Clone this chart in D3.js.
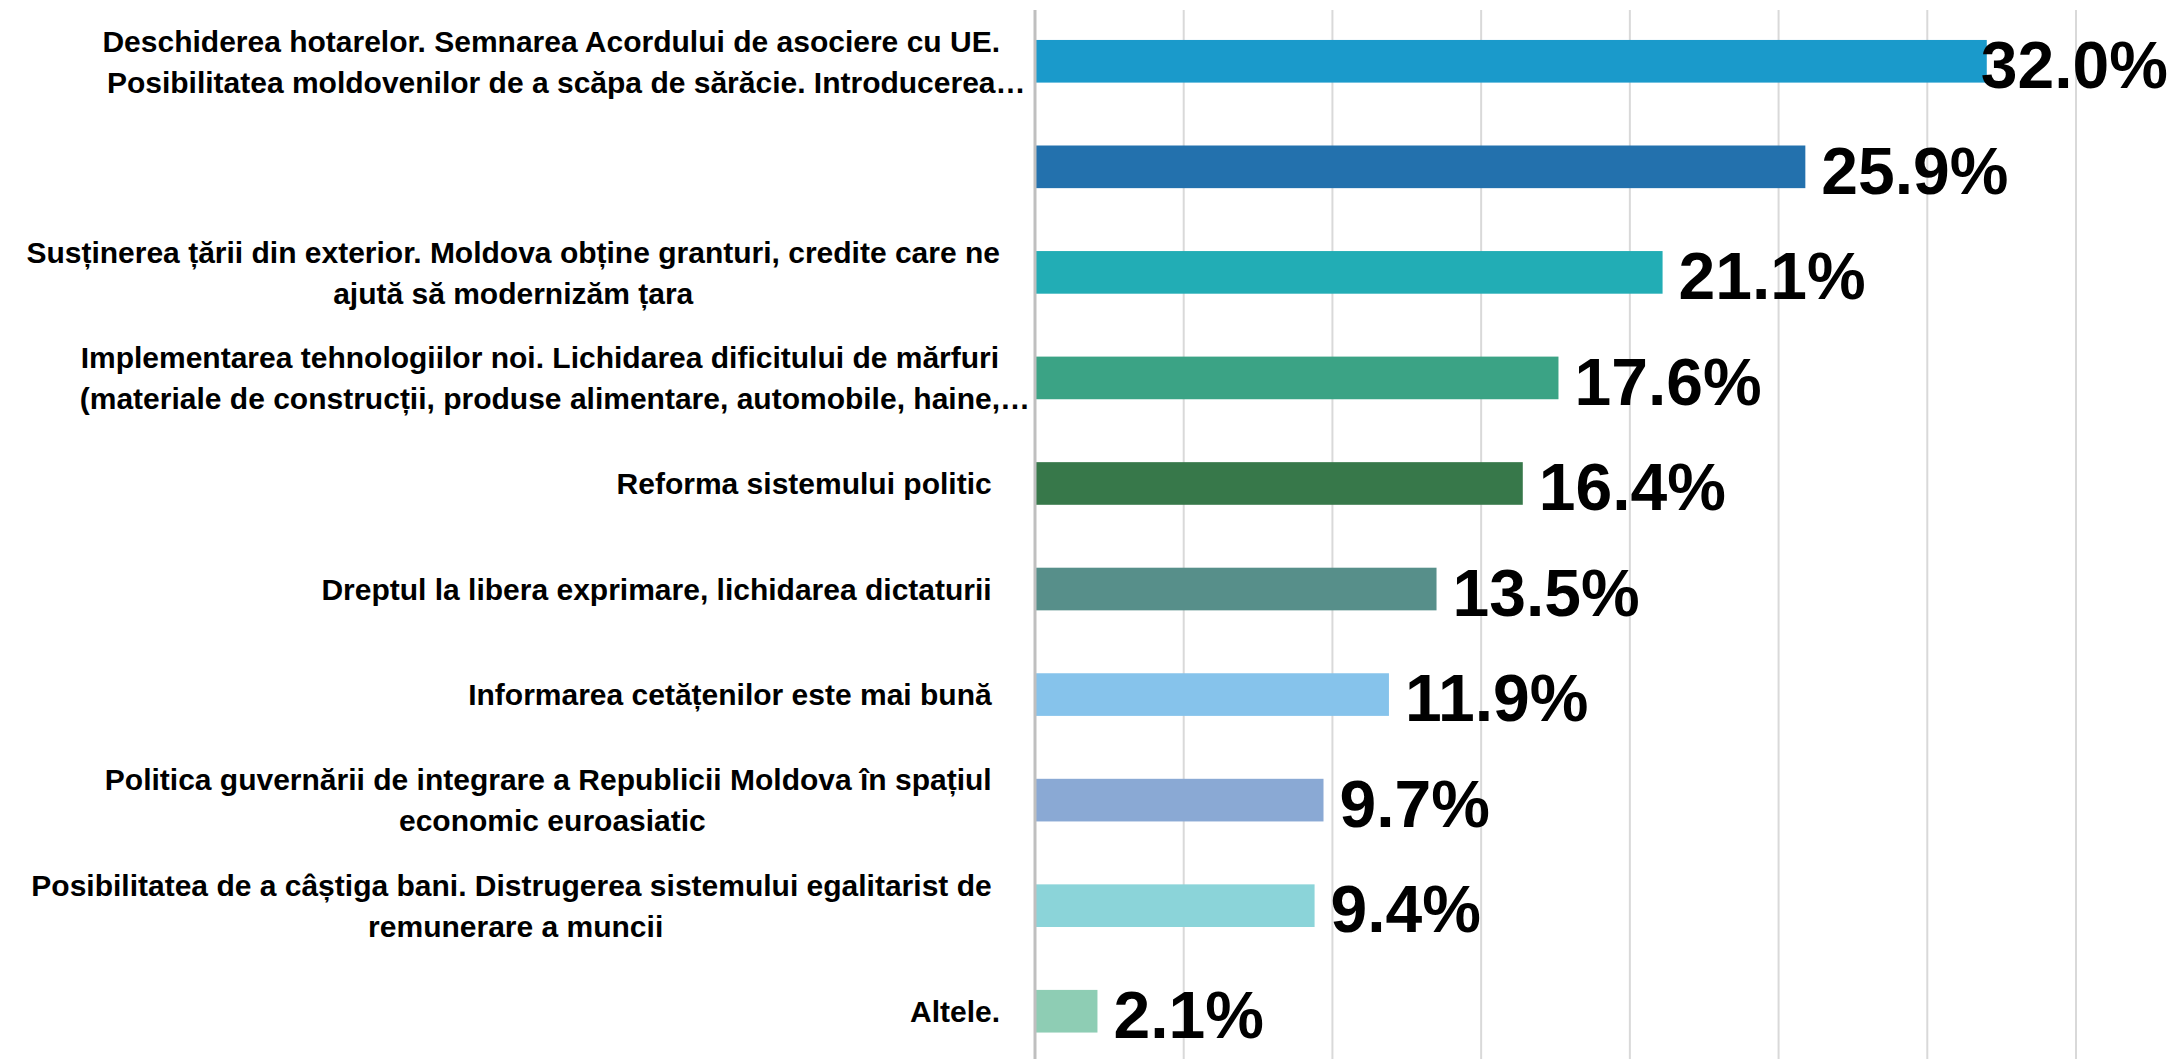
<!DOCTYPE html>
<html>
<head>
<meta charset="utf-8">
<script src="https://cdn.jsdelivr.net/npm/d3@7"></script>
<style>
  body { margin: 0; background: #fff; }
  svg { display: block; }
  text { white-space: pre; }
</style>
</head>
<body>
<div id="chart"></div>
<script>
var width = 2178;
var height = 1059;

// category labels, top to bottom ("\n" = line break as in the original)
var categories = [
  "Deschiderea hotarelor. Semnarea Acordului de asociere cu UE.\nPosibilitatea moldovenilor de a scăpa de sărăcie. Introducerea…",
  "",
  "Susținerea țării din exterior. Moldova obține granturi, credite care ne\najută să modernizăm țara",
  "Implementarea tehnologiilor noi. Lichidarea dificitului de mărfuri\n(materiale de construcții, produse alimentare, automobile, haine,…",
  "Reforma sistemului politic ",
  "Dreptul la libera exprimare, lichidarea dictaturii ",
  "Informarea cetățenilor este mai bună ",
  "Politica guvernării de integrare a Republicii Moldova în spațiul \neconomic euroasiatic",
  "Posibilitatea de a câștiga bani. Distrugerea sistemului egalitarist de \nremunerare a muncii",
  "Altele."
];
var values = [32.0, 25.9, 21.1, 17.6, 16.4, 13.5, 11.9, 9.7, 9.4, 2.1];
var barColors = ["#1a9acb", "#2371ad", "#22adb5", "#3ba385", "#37784a",
                 "#578f8a", "#86c3eb", "#8aa9d4", "#8bd4d9", "#8ecdb4"];
var gridTicks = [5, 10, 15, 20, 25, 30, 35];

var margin = {left: 1035, right: 102, top: 8.5, bottom: -5};
var labelFont = "'Liberation Sans Narrow', 'Arial Narrow', 'Liberation Sans', sans-serif";
var labelSize = 30;
var valueSize = 66;
var lineGap = 41;

var svg = d3.select("#chart").append("svg")
  .attr("width", width).attr("height", height);

var x = d3.scaleLinear().domain([0, 35]).range([margin.left, width - margin.right]);
var y = d3.scaleBand()
  .domain(d3.range(values.length))
  .range([margin.top, height - margin.bottom])
  .paddingInner(0.596)
  .paddingOuter(0.298);

// gridlines
svg.append("g").selectAll("line").data(gridTicks).enter().append("line")
  .attr("x1", function(d){ return x(d); })
  .attr("x2", function(d){ return x(d); })
  .attr("y1", 10).attr("y2", height)
  .attr("stroke", "#d9d9d9")
  .attr("stroke-width", 2);

// bars
svg.append("g").selectAll("rect").data(values).enter().append("rect")
  .attr("x", x(0))
  .attr("y", function(d, i){ return y(i); })
  .attr("width", function(d){ return x(d) - x(0); })
  .attr("height", y.bandwidth())
  .attr("fill", function(d, i){ return barColors[i]; });

// vertical axis line
svg.append("line")
  .attr("x1", x(0)).attr("x2", x(0))
  .attr("y1", 10).attr("y2", height)
  .attr("stroke", "#bfbfbf")
  .attr("stroke-width", 3);

// category labels: block right-aligned, lines centred inside the block
// (a trailing ellipsis is allowed to hang past the block edge)
var labelRight = x(0) - 35;
var labelG = svg.append("g");
categories.forEach(function(cat, i){
  if (cat === "") return;
  var lines = cat.split("\n");
  var cy = y(i) + y.bandwidth() / 2;
  var texts = lines.map(function(line, k){
    return labelG.append("text")
      .attr("font-family", labelFont)
      .attr("font-weight", "bold")
      .attr("font-size", labelSize)
      .attr("fill", "#000")
      .attr("y", cy - (lines.length - 1) * lineGap / 2 + k * lineGap + labelSize * 0.36)
      .text(line);
  });
  var widths = texts.map(function(t, k){
    var n = t.node();
    var w = n.getComputedTextLength();
    if (lines[k].slice(-1) === "…") w = n.getSubStringLength(0, lines[k].length - 1);
    return w;
  });
  var blockW = d3.max(widths);
  var mid = labelRight - blockW / 2;
  texts.forEach(function(t, k){
    t.attr("x", mid - widths[k] / 2);
  });
});

// value labels
svg.append("g").selectAll("text").data(values).enter().append("text")
  .attr("font-family", labelFont)
  .attr("font-weight", "bold")
  .attr("font-size", valueSize)
  .attr("fill", "#000")
  .attr("y", function(d, i){ return y(i) + y.bandwidth() / 2 + valueSize * 0.36 + 3; })
  .text(function(d){ return d.toFixed(1) + "%"; })
  .attr("x", function(d){
    var w = this.getComputedTextLength();
    return Math.min(x(d) + 16, width - 10 - w);
  });
</script>
</body>
</html>
